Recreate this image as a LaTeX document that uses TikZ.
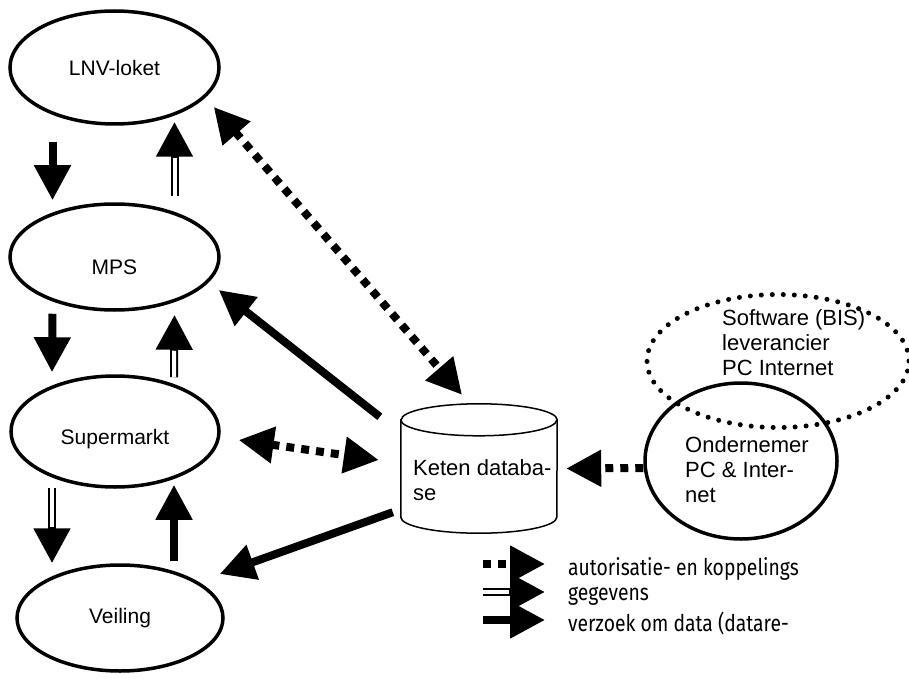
\documentclass[tikz,border=0pt]{standalone}
\usepackage{fontspec}
\setmainfont{Liberation Sans}
\newfontfamily\legfont[FakeStretch=0.84]{Fira Sans}
\usetikzlibrary{calc, shapes, arrows.meta}

\begin{document}
\begin{tikzpicture}[
    x=1pt, y=-1pt,
    ent/.style={ellipse, draw, line width=3.5pt, inner sep=0pt,
                font=\fontsize{21}{25}\selectfont},
    dotent/.style={ellipse, draw, line width=5pt, line cap=round,
                   dash pattern=on 0pt off 11pt, inner sep=0pt},
    txt/.style={align=left, inner sep=0pt, font=\fontsize{22}{25}\selectfont},
    legtxt/.style={align=left, inner sep=0pt,
                   font=\legfont\fontsize{23}{25}\selectfont},
    arrowtip/.style={-{Triangle[length=35pt, width=35pt]}},
    req/.style={arrowtip, line width=8pt},
    dat/.style={arrowtip, line width=8pt,
                postaction={draw=white, line width=4pt, -, shorten >=36pt}},
    aut/.style={arrowtip, line width=8pt, dash pattern=on 8pt off 7pt},
    autb/.style={aut, {Triangle[length=35pt, width=35pt]}-{Triangle[length=35pt, width=35pt]}}
  ]
  \useasboundingbox (0,0) rectangle (909,679);

  \node[ent, minimum width=209pt, minimum height=113pt] (lnv) at (114.5,67.5) {LNV-loket};
  \node[ent, minimum width=209pt, minimum height=106pt] (mps) at (114.5,257) {\raisebox{-17pt}[0pt][0pt]{MPS}};
  \node[ent, minimum width=208pt, minimum height=111pt] (sup) at (115,431.5) {\raisebox{-13pt}[0pt][0pt]{Supermarkt}};
  \node[ent, minimum width=206pt, minimum height=106pt] (vei) at (120,618) {Veiling};

  \node[dotent, minimum width=262pt, minimum height=133pt] (sw) at (778,361) {};
  \node[txt, anchor=west] (swtxt) at (722,343) {Software (BIS)\\leverancier\\PC Internet};
  \node[ent, minimum width=192pt, minimum height=156pt] (ond) at (741,461) {};
  \node[txt, anchor=west] (ondtxt) at (685,470) {Ondernemer\\PC \& Inter-\\net};

  \node[minimum width=156pt, minimum height=129pt, inner sep=0pt] (db) at (479,468.5) {};
  \draw[line width=1.5pt] ($(db.north west)+(0,16)$) -- ($(db.south west)+(0,-16)$)
    arc[start angle=180, end angle=360, x radius=78pt, y radius=16pt]
    -- ($(db.north east)+(0,16)$)
    arc[start angle=0, end angle=180, x radius=78pt, y radius=16pt] -- cycle;
  \draw[line width=1.5pt] ($(db.north west)+(0,16)$)
    arc[start angle=180, end angle=360, x radius=78pt, y radius=16pt];
  \node[txt, anchor=west] (dbtxt) at (413,480) {Keten databa-\\se};

  \draw[req] ($(lnv.south)+(-62,16)$) -- ($(mps.north)+(-62,-2)$);
  \draw[dat] ($(mps.north)+(60,-6)$) -- ($(lnv.south)+(60,-4)$);
  \draw[req] ($(mps.south)+(-62,2)$) -- ($(sup.north)+(-63,-2)$);
  \draw[dat] ($(sup.north)+(59,3)$) -- ($(mps.south)+(60,3)$);
  \draw[dat] ($(sup.south)+(-63,-1)$) -- ($(vei.north)+(-68,0)$);
  \draw[req] ($(vei.north)+(54,-2)$) -- ($(sup.south)+(59,-4)$);

  \draw[autb] ($(lnv.east)+(-7,39.5)$) -- ($(db.north)+(-17,-9)$);
  \draw[autb] ($(sup.east)+(18,8.5)$) -- ($(db.west)+(-22,-8.5)$);
  \draw[aut] ($(ond.west)+(0,7)$) -- ($(db.east)+(9,0)$);
  \draw[req] ($(db.north west)+(-21,13)$) -- ($(mps.east)+(-2,33)$);
  \draw[req] ($(db.south west)+(-8,-21)$) -- ($(vei.east)+(-5,-44)$);

  \coordinate (k1) at (483,564);
  \coordinate (k1e) at (545,564);
  \coordinate (k2) at (483,592);
  \coordinate (k2e) at (545,592);
  \coordinate (k3) at (483,620);
  \coordinate (k3e) at (545,620);
  \draw[aut] (k1) -- (k1e);
  \draw[dat] (k2) -- (k2e);
  \draw[req] (k3) -- (k3e);
  \node[legtxt, anchor=base west] (leg1) at (568,600) {autorisatie- en koppelings\\gegevens};
  \node[legtxt, anchor=base west] (leg2) at (568,631) {verzoek om data (datare-};
\end{tikzpicture}
\end{document}
